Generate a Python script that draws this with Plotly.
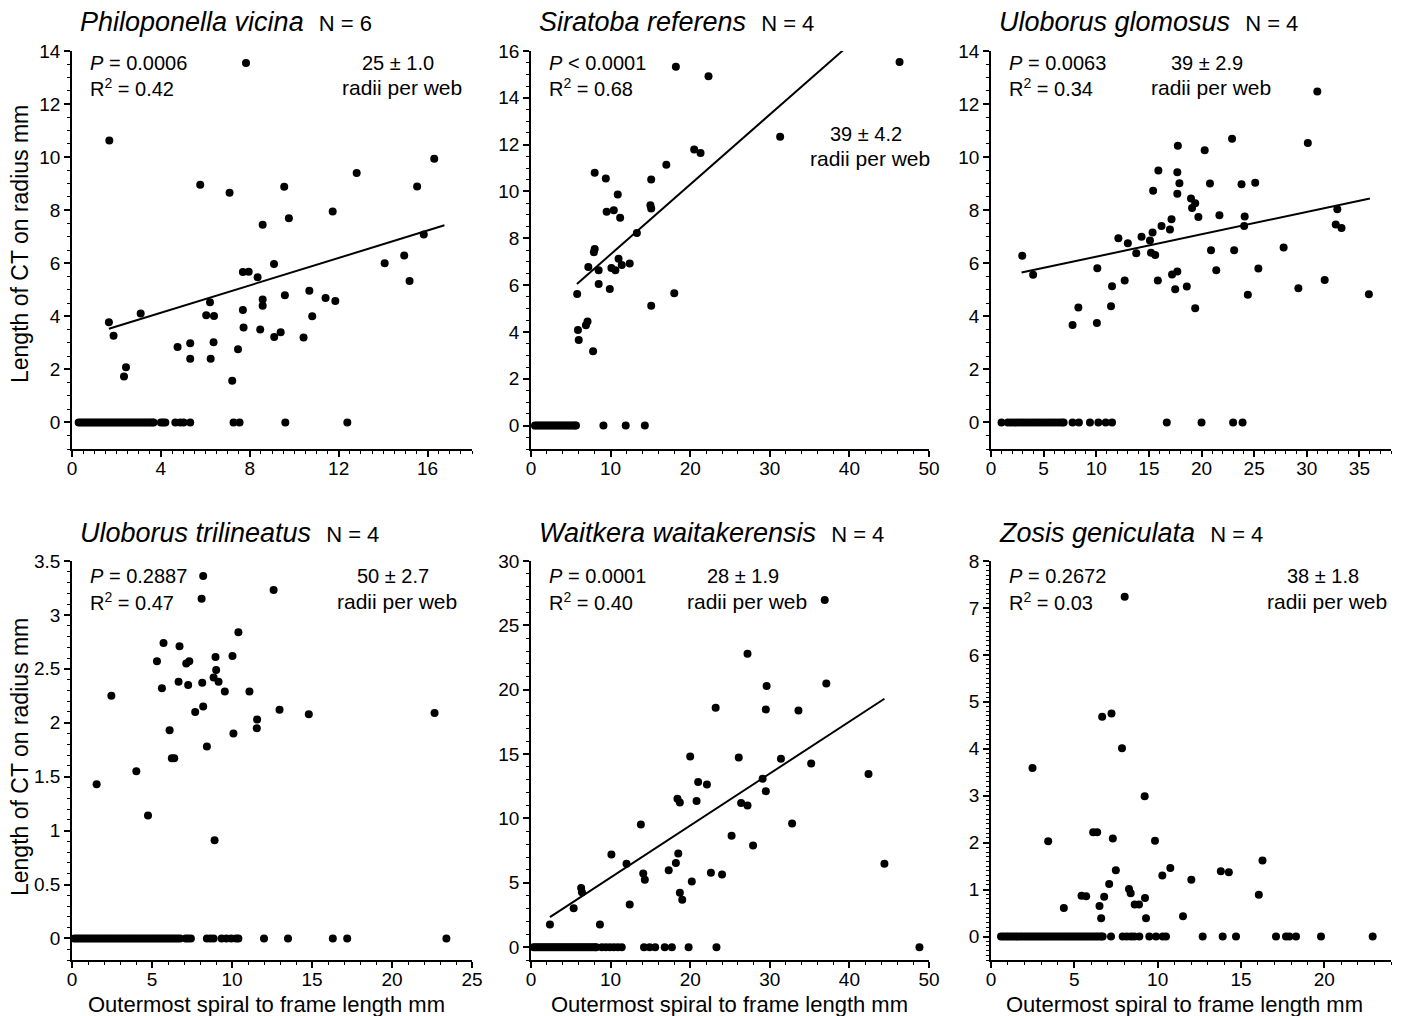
import plotly.graph_objects as go

# ---------------- data ----------------
TITLES = ["Philoponella vicina", "Siratoba referens", "Uloborus glomosus",
          "Uloborus trilineatus", "Waitkera waitakerensis", "Zosis geniculata"]
N_TEXT = ["N = 6", "N = 4", "N = 4", "N = 4", "N = 4", "N = 4"]
P_SIGN = ["=", "<", "=", "=", "=", "="]
P_VALUE = ["0.0006", "0.0001", "0.0063", "0.2887", "0.0001", "0.2672"]
R2_VALUE = ["0.42", "0.68", "0.34", "0.47", "0.40", "0.03"]
RADII = ["25 ± 1.0", "39 ± 4.2", "39 ± 2.9", "50 ± 2.7", "28 ± 1.9", "38 ± 1.8"]
Y_TITLE = "Length of CT on radius mm"
X_TITLE = "Outermost spiral to frame length mm"

P1_PTS = [(7.83,13.55),(1.68,10.63),(5.77,8.96),(7.09,8.66),(9.55,8.88),(12.81,9.40),(16.30,9.94),
          (15.53,8.89),(11.73,7.95),(9.76,7.70),(8.58,7.45),(15.83,7.08),(14.95,6.29),(14.07,6.00),
          (15.19,5.33),(9.09,5.97),(7.69,5.67),(7.95,5.68),(8.35,5.47),(9.58,4.79),(10.68,4.96),
          (11.41,4.69),(11.85,4.58),(10.81,4.00),(8.58,4.63),(8.58,4.40),(6.21,4.53),(6.04,4.04),
          (6.39,4.01),(7.69,4.24),(7.72,3.58),(8.47,3.50),(9.39,3.40),(9.10,3.22),(10.42,3.20),
          (3.09,4.11),(1.66,3.78),(1.87,3.27),(4.75,2.84),(5.32,2.99),(6.37,3.02),(5.32,2.40),
          (6.24,2.40),(7.47,2.76),(7.21,1.57),(2.34,1.73),(2.43,2.08)]
P1_ZEROS = [0.3,0.4,0.5,0.6,0.7,0.8,0.9,1.0,1.1,1.2,1.3,1.4,1.5,1.6,1.7,1.8,1.9,2.0,2.1,2.2,2.3,
            2.4,2.5,2.6,2.7,2.8,2.9,3.0,3.1,3.2,3.3,3.4,3.5,3.6,3.67,4.0,4.1,4.2,4.65,4.87,5.02,
            5.32,7.27,7.54,9.6,12.39]
P1_FIT = [(1.66, 3.53), (16.76, 7.43)]

P2_PTS = [(18.2,15.33),(22.3,14.92),(46.3,15.53),(31.3,12.34),(20.5,11.79),(21.3,11.64),(17.0,11.14),
          (8.0,10.80),(9.4,10.55),(15.1,10.51),(10.9,9.87),(15.0,9.41),(15.1,9.27),(9.5,9.13),
          (10.4,9.20),(11.2,8.88),(13.3,8.23),(8.0,7.54),(7.9,7.40),(7.2,6.77),(11.0,7.13),
          (11.4,6.86),(12.4,6.92),(10.1,6.73),(10.6,6.63),(8.5,6.63),(8.5,6.05),(9.9,5.83),
          (5.8,5.62),(18.0,5.65),(15.1,5.12),(5.9,4.08),(6.0,3.66),(6.9,4.29),(7.1,4.45),(7.8,3.17)]
P2_ZEROS = [0.5,0.75,1.0,1.25,1.5,1.75,2.0,2.25,2.5,2.75,3.0,3.25,3.5,3.75,4.0,4.25,4.5,4.75,
            5.0,5.25,5.5,5.65,9.1,11.9,14.3]
P2_FIT = [(5.77, 6.05), (39.2, 16.03)]

P3_PTS = [(31.0,12.47),(22.9,10.69),(30.1,10.53),(17.75,10.43),(20.3,10.26),(15.9,9.50),(17.7,9.43),
          (15.4,8.73),(17.9,9.02),(20.8,9.01),(23.8,8.98),(25.1,9.03),(17.7,8.62),(19.0,8.44),
          (19.4,8.26),(19.1,8.08),(19.7,7.74),(21.7,7.81),(24.1,7.76),(32.9,8.04),(17.15,7.66),
          (16.2,7.40),(17.0,7.27),(15.35,7.16),(24.05,7.40),(32.75,7.46),(33.3,7.33),(12.1,6.94),
          (13.0,6.75),(14.3,7.00),(15.1,6.86),(13.8,6.38),(15.2,6.40),(15.6,6.31),(20.9,6.49),
          (23.1,6.49),(27.8,6.59),(2.97,6.28),(4.0,5.57),(10.1,5.81),(12.7,5.35),(15.85,5.35),
          (17.2,5.58),(17.7,5.69),(21.4,5.74),(25.4,5.80),(31.7,5.37),(11.5,5.13),(18.6,5.12),
          (17.5,5.02),(29.2,5.06),(24.4,4.81),(35.9,4.83),(8.3,4.33),(19.4,4.30),(11.4,4.38),
          (7.75,3.67),(10.06,3.75)]
P3_ZEROS = [1.0,1.6,1.9,2.2,2.5,2.8,3.1,3.4,3.7,4.0,4.3,4.6,4.9,5.2,5.5,5.8,6.1,6.4,6.7,6.9,
            7.75,8.35,9.4,10.2,10.9,11.5,16.7,20.0,23.0,23.9]
P3_FIT = [(2.9, 5.65), (36.0, 8.44)]

P4_PTS = [(8.2,3.36),(8.1,3.15),(12.6,3.23),(10.4,2.84),(5.72,2.74),(6.72,2.71),(5.31,2.57),
          (7.14,2.55),(7.33,2.57),(8.97,2.61),(10.03,2.62),(9.01,2.49),(8.85,2.42),(9.16,2.38),
          (8.14,2.37),(6.66,2.38),(7.26,2.35),(5.62,2.32),(9.55,2.29),(11.09,2.29),(2.46,2.25),
          (7.70,2.10),(8.2,2.15),(12.97,2.12),(14.8,2.08),(22.66,2.09),(11.57,2.03),(11.55,1.95),
          (6.10,1.93),(10.09,1.90),(8.43,1.78),(6.24,1.67),(6.39,1.67),(4.02,1.55),(1.54,1.43),
          (4.75,1.14),(8.91,0.91)]
P4_ZEROS = [0.15,0.3,0.45,0.6,0.75,0.9,1.05,1.2,1.35,1.5,1.65,1.8,1.95,2.1,2.25,2.4,2.55,2.7,
            2.85,3.0,3.15,3.3,3.45,3.6,3.75,3.9,4.05,4.2,4.35,4.5,4.65,4.8,4.95,5.1,5.25,5.4,
            5.55,5.7,5.85,6.0,6.15,6.3,6.45,6.6,6.75,7.1,7.25,7.43,8.43,8.65,8.85,9.35,9.65,
            9.95,10.25,10.4,12.0,13.5,16.3,17.2,23.4]
P4_FIT = None

P5_PTS = [(36.9,26.97),(27.2,22.80),(37.1,20.49),(29.6,20.28),(23.2,18.60),(29.5,18.47),(33.6,18.39),
          (20.0,14.82),(26.1,14.74),(31.4,14.64),(35.2,14.27),(42.4,13.45),(29.1,13.08),(21.0,12.82),
          (22.1,12.64),(29.5,12.12),(18.4,11.53),(18.7,11.24),(20.8,11.35),(26.4,11.19),(27.2,11.01),
          (13.8,9.53),(32.8,9.61),(25.2,8.65),(27.9,7.90),(10.1,7.20),(18.5,7.28),(12.0,6.48),
          (18.2,6.53),(44.4,6.48),(17.3,5.98),(22.6,5.78),(24.0,5.65),(14.1,5.73),(14.3,5.23),
          (20.2,5.10),(6.3,4.59),(6.4,4.27),(18.7,4.22),(19.0,3.68),(12.4,3.32),(5.36,3.03),
          (2.38,1.76),(8.66,1.76)]
P5_ZEROS = [0.3,0.55,0.8,1.05,1.3,1.55,1.8,2.05,2.3,2.55,2.8,3.05,3.3,3.55,3.8,4.05,4.3,4.55,
            4.8,5.05,5.3,5.55,5.8,6.05,6.3,6.55,6.8,7.05,7.3,7.55,7.8,8.05,8.2,8.9,9.4,9.9,10.4,
            10.9,11.4,14.2,14.9,15.6,16.8,17.7,19.8,23.3,48.8]
P5_FIT = [(2.38, 2.33), (44.4, 19.3)]

P6_PTS = [(8.02,7.24),(6.67,4.68),(7.23,4.75),(7.86,4.01),(2.49,3.59),(9.22,2.99),(6.13,2.22),
          (6.37,2.22),(3.43,2.03),(7.31,2.09),(9.84,2.04),(16.29,1.62),(10.76,1.46),(7.49,1.41),
          (13.79,1.39),(14.27,1.37),(10.28,1.30),(12.02,1.21),(7.09,1.12),(8.28,1.01),(8.38,0.92),
          (16.07,0.89),(5.43,0.87),(5.71,0.86),(6.79,0.85),(9.24,0.82),(8.62,0.68),(8.88,0.68),
          (6.51,0.65),(4.37,0.61),(11.52,0.43),(6.61,0.39),(9.30,0.39)]
P6_ZEROS = [0.6,0.75,0.9,1.05,1.2,1.35,1.5,1.65,1.8,1.95,2.1,2.25,2.4,2.55,2.7,2.85,3.0,3.15,
            3.3,3.45,3.6,3.75,3.9,4.05,4.2,4.35,4.5,4.65,4.8,4.95,5.1,5.25,5.4,5.55,5.7,5.85,
            6.0,6.15,6.3,6.45,6.6,6.7,7.2,7.9,8.15,8.4,8.6,8.9,9.5,9.9,10.3,10.5,12.7,13.9,
            14.7,17.1,17.7,17.9,18.3,19.8,22.9]
P6_FIT = None

X_RANGES = [(0, 18), (0, 50), (0, 38), (0, 25), (0, 50), (0, 24)]
Y_RANGES = [(-1, 14), (-1, 16), (-1, 14), (-0.2, 3.5), (-1, 30), (-0.5, 8)]
X_DTICK = [4, 10, 5, 5, 10, 5]
X_MINOR = [0.5, 2, 1, 1, 2, 1]
Y_DTICK = [2, 2, 2, 0.5, 5, 1]
Y_MINOR = [0.5, 0.5, 0.5, 0.1, 1, 0.1]

ALL_PTS = [P1_PTS, P2_PTS, P3_PTS, P4_PTS, P5_PTS, P6_PTS]
ALL_ZEROS = [P1_ZEROS, P2_ZEROS, P3_ZEROS, P4_ZEROS, P5_ZEROS, P6_ZEROS]
ALL_FITS = [P1_FIT, P2_FIT, P3_FIT, P4_FIT, P5_FIT, P6_FIT]

# ---------------- layout (pixels) ----------------
W, H = 1406, 1016
FONT = "Liberation Sans, Arial, Helvetica, sans-serif"
COLS = [(72, 472), (531, 929), (991, 1391)]
ROWS = [(51, 449), (561, 960)]

def px(x):
    return x / W

def py(y):
    return 1 - y / H

fig = go.Figure()
layout = dict(
    width=W, height=H, margin=dict(l=0, r=0, t=0, b=0),
    paper_bgcolor="white", plot_bgcolor="white", showlegend=False,
    template="none", font=dict(family=FONT, color="black", size=20),
)
annotations = []

for i in range(6):
    r, c = divmod(i, 3)
    xs = "" if i == 0 else str(i + 1)
    xname, yname = "xaxis" + xs, "yaxis" + xs
    xref, yref = "x" + xs, "y" + xs
    x0, x1 = COLS[c]
    ytop, ybot = ROWS[r]
    common = dict(showline=True, linecolor="black", linewidth=1.5, ticks="outside",
                  ticklen=6, tickwidth=1.5, tickcolor="black", showgrid=False,
                  zeroline=False, automargin=False, mirror=False,
                  tickfont=dict(family=FONT, size=19, color="black"))
    layout[xname] = dict(common, domain=[px(x0), px(x1)], range=list(X_RANGES[i]),
                         dtick=X_DTICK[i], tick0=0, anchor=yref, ticklabelstandoff=-5,
                         minor=dict(dtick=X_MINOR[i], tick0=0, ticks="outside", ticklen=3,
                                    tickwidth=1.2, tickcolor="black", showgrid=False))
    layout[yname] = dict(common, domain=[py(ybot), py(ytop)], range=list(Y_RANGES[i]),
                         dtick=Y_DTICK[i], tick0=0, anchor=xref,
                         minor=dict(dtick=Y_MINOR[i], tick0=0, ticks="outside", ticklen=3,
                                    tickwidth=1.2, tickcolor="black", showgrid=False))

    pts = ALL_PTS[i]
    fig.add_trace(go.Scatter(x=[p[0] for p in pts], y=[p[1] for p in pts], mode="markers",
                             marker=dict(color="black", size=8), xaxis=xref, yaxis=yref,
                             hoverinfo="x+y"))
    zeros = ALL_ZEROS[i]
    fig.add_trace(go.Scatter(x=zeros, y=[0] * len(zeros), mode="markers",
                             marker=dict(color="black", size=8), xaxis=xref, yaxis=yref,
                             hoverinfo="x+y"))
    fit = ALL_FITS[i]
    if fit is not None:
        fig.add_trace(go.Scatter(x=[fit[0][0], fit[1][0]], y=[fit[0][1], fit[1][1]],
                                 mode="lines", line=dict(color="black", width=2),
                                 xaxis=xref, yaxis=yref, hoverinfo="skip"))

    # panel title
    ty = 22 if r == 0 else 533
    annotations.append(dict(
        x=px(x0 + 6), y=py(ty), xref="paper", yref="paper", xanchor="left", yanchor="middle",
        showarrow=False, align="left",
        text="<i>" + TITLES[i] + "</i>  <span style='font-size:22px'>" + N_TEXT[i] + "</span>",
        font=dict(family=FONT, size=27, color="black")))
    # statistics
    sy = 63 if r == 0 else 576
    annotations.append(dict(
        x=px(x0 + 16), y=py(sy), xref="paper", yref="paper", xanchor="left", yanchor="middle",
        showarrow=False, text="<i>P</i> " + P_SIGN[i] + " " + P_VALUE[i],
        font=dict(family=FONT, size=20, color="black")))
    annotations.append(dict(
        x=px(x0 + 16), y=py(sy + 25), xref="paper", yref="paper", xanchor="left", yanchor="middle",
        showarrow=False, text="R<sup>2</sup> = " + R2_VALUE[i],
        font=dict(family=FONT, size=20, color="black")))

# radii per web positions (pixel centre x, first-line y)
RADII_POS = [(398, 63), (866, 134), (1207, 63), (393, 576), (743, 576), (1323, 576)]
for i in range(6):
    cx, cy = RADII_POS[i]
    annotations.append(dict(x=px(cx), y=py(cy), xref="paper", yref="paper", xanchor="center",
                            yanchor="middle", showarrow=False, text=RADII[i],
                            font=dict(family=FONT, size=20, color="black")))
    annotations.append(dict(x=px(cx + 4), y=py(cy + 25), xref="paper", yref="paper", xanchor="center",
                            yanchor="middle", showarrow=False, text="radii per web",
                            font=dict(family=FONT, size=21, color="black")))

# axis titles
for cy in (244, 757):
    annotations.append(dict(x=px(20), y=py(cy), xref="paper", yref="paper", xanchor="center",
                            yanchor="middle", showarrow=False, textangle=-90, text=Y_TITLE,
                            font=dict(family=FONT, size=23, color="black")))
for cx in (266, 729, 1184):
    annotations.append(dict(x=px(cx), y=py(1004), xref="paper", yref="paper", xanchor="center",
                            yanchor="middle", showarrow=False, text=X_TITLE,
                            font=dict(family=FONT, size=22, color="black")))

layout["annotations"] = annotations
fig.update_layout(**layout)
fig.write_html("out.html", config={"displayModeBar": False},
               post_script="document.body.style.margin='0';document.body.style.padding='0';")
